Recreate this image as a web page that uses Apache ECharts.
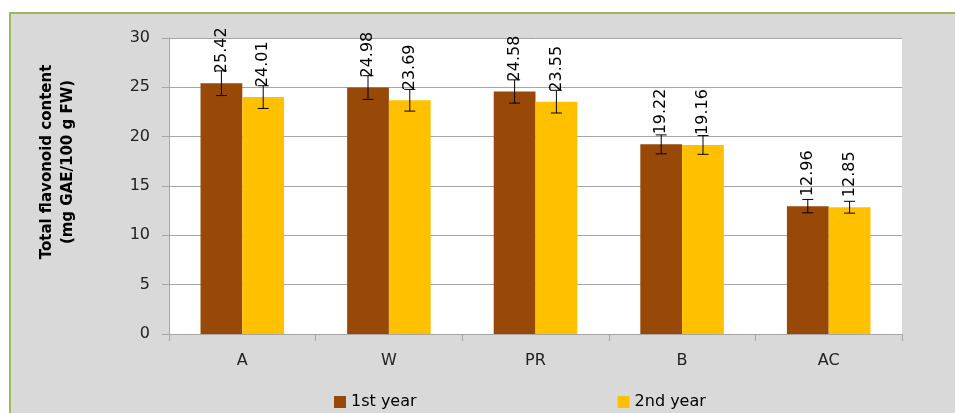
<!DOCTYPE html>
<html>
<head>
<meta charset="utf-8">
<script src="https://cdn.jsdelivr.net/npm/echarts@6/dist/echarts.min.js"></script>
<style>
html,body{margin:0;padding:0;background:#ffffff;}
#chart{width:955px;height:413px;}
</style>
</head>
<body>
<div id="chart"></div>
<script>
const categories = ['A', 'W', 'PR', 'B', 'AC'];
const year1 = [25.42, 24.98, 24.58, 19.22, 12.96];
const year2 = [24.01, 23.69, 23.55, 19.16, 12.85];
const err1 = [1.25, 1.2, 1.18, 0.96, 0.68];
const err2 = [1.15, 1.1, 1.15, 0.95, 0.6];
const seriesNames = ['1st year', '2nd year'];
const yTicks = [0, 5, 10, 15, 20, 25, 30];

const FONT = 'DejaVu Sans';
const GAP = 0.43;

function errData(vals, errs) {
  return categories.map((c, i) => [c, vals[i] - errs[i], vals[i] + errs[i]]);
}

function errRender(sign) {
  return function (params, api) {
    const idx = api.value(0);
    const lo = api.coord([idx, api.value(1)]);
    const hi = api.coord([idx, api.value(2)]);
    const band = api.size([1, 0])[0];
    const x = lo[0] + sign * band * (1 - GAP) / 4;
    const cap = 5.5;
    const style = { stroke: '#000000', lineWidth: 1 };
    return {
      type: 'group',
      children: [
        { type: 'line', shape: { x1: x, y1: hi[1], x2: x, y2: lo[1] }, style },
        { type: 'line', shape: { x1: x - cap, y1: hi[1], x2: x + cap, y2: hi[1] }, style },
        { type: 'line', shape: { x1: x - cap, y1: lo[1], x2: x + cap, y2: lo[1] }, style }
      ]
    };
  };
}

const barLabel = {
  show: true,
  position: 'top',
  rotate: 90,
  align: 'left',
  verticalAlign: 'middle',
  distance: 10,
  color: '#000000',
  fontFamily: FONT,
  fontSize: 16,
  formatter: p => Number(p.value).toFixed(2)
};

const chart = echarts.init(document.getElementById('chart'), null, { renderer: 'canvas' });
chart.setOption({
  animation: false,
  backgroundColor: '#ffffff',
  graphic: [
    {
      type: 'rect',
      z: -10,
      silent: true,
      shape: { x: 10, y: 13, width: 960, height: 420 },
      style: { fill: '#d9d9d9', stroke: '#9bbb59', lineWidth: 2 }
    },
    {
      type: 'text',
      x: 58,
      y: 162,
      rotation: Math.PI / 2,
      style: {
        text: 'Total flavonoid content\n(mg GAE/100 g FW)',
        font: 'bold 15px "DejaVu Sans"',
        fill: '#000000',
        align: 'center',
        verticalAlign: 'middle',
        lineHeight: 21
      }
    }
  ],
  grid: {
    left: 169, right: 53, top: 38, bottom: 79,
    show: true, backgroundColor: '#ffffff', borderWidth: 0
  },
  legend: {
    data: seriesNames,
    left: 329,
    top: 389,
    itemWidth: 12,
    itemHeight: 12,
    itemGap: 201,
    icon: 'rect',
    textStyle: { fontFamily: FONT, fontSize: 16, color: '#000000' }
  },
  xAxis: {
    type: 'category',
    data: categories,
    axisLine: { show: true, lineStyle: { color: '#a6a6a6', width: 1 } },
    axisTick: { show: true, length: 7, lineStyle: { color: '#a6a6a6' } },
    axisLabel: { margin: 19, fontFamily: FONT, fontSize: 16, color: '#222222' },
    splitLine: { show: false }
  },
  yAxis: {
    type: 'value',
    min: yTicks[0],
    max: yTicks[yTicks.length - 1],
    interval: 5,
    axisLine: { show: true, lineStyle: { color: '#a6a6a6', width: 1 } },
    axisTick: { show: true, length: 7, lineStyle: { color: '#a6a6a6' } },
    axisLabel: { margin: 19, fontFamily: FONT, fontSize: 16, color: '#222222' },
    splitLine: { show: true, lineStyle: { color: '#a6a6a6', width: 1 } }
  },
  series: [
    {
      name: seriesNames[0],
      type: 'bar',
      data: year1,
      barGap: '0%',
      barCategoryGap: (GAP * 100) + '%',
      itemStyle: { color: '#984807' },
      label: barLabel,
      z: 2
    },
    {
      name: seriesNames[1],
      type: 'bar',
      data: year2,
      itemStyle: { color: '#ffc000' },
      label: barLabel,
      z: 2
    },
    {
      type: 'custom',
      name: 'err1',
      renderItem: errRender(-1),
      data: errData(year1, err1),
      encode: { x: 0, y: [1, 2] },
      z: 3,
      silent: true
    },
    {
      type: 'custom',
      name: 'err2',
      renderItem: errRender(1),
      data: errData(year2, err2),
      encode: { x: 0, y: [1, 2] },
      z: 3,
      silent: true
    }
  ]
});
</script>
</body>
</html>
